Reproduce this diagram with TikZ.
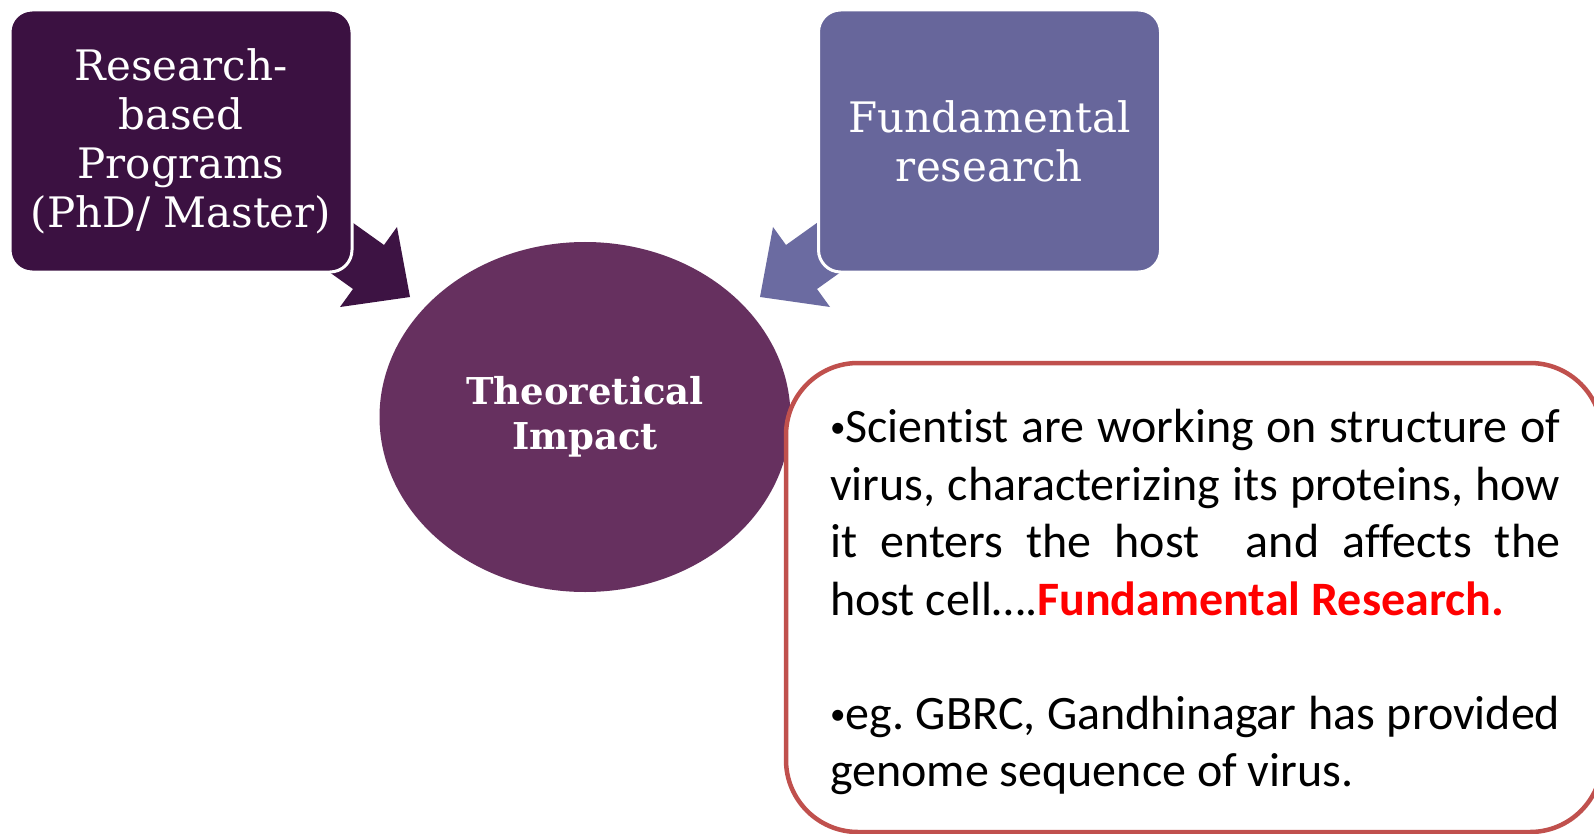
\documentclass[tikz,border=0pt]{standalone}
\usepackage{fontspec}
\usetikzlibrary{shapes.geometric}
\setmainfont{Carlito}[Ligatures=NoCommon]
\newfontfamily\slab{DejaVu Serif}
\definecolor{darkpurp}{HTML}{3B1141}
\definecolor{slatepurp}{HTML}{67669B}
\definecolor{circpurp}{HTML}{66305F}
\definecolor{arrowdark}{HTML}{3D1343}
\definecolor{arrowslate}{HTML}{6B6BA1}
\definecolor{boxred}{HTML}{C0504D}
\newcommand{\smbul}{\raisebox{5pt}{\fontsize{31}{31}\selectfont•}}
\frenchspacing
\begin{document}
\begin{tikzpicture}[x=1pt,y=-1pt,
  pbox/.style={rectangle, rounded corners=22pt, draw=white, line width=3pt,
    minimum width=342pt, minimum height=262pt, text=white, align=center,
    font=\slab\fontsize{42}{49}\selectfont},
  txtline/.style={anchor=base west, inner sep=0pt, font=\fontsize{48}{58}\selectfont}]
\useasboundingbox (0,0) rectangle (1594,834);
\fill[white] (0,0) rectangle (1594,834);
% centre circle
\node[ellipse, fill=circpurp, minimum width=411pt, minimum height=350pt, inner sep=0pt,
  text=white, align=center, font=\slab\bfseries\fontsize{37}{45}\selectfont] (ti) at (585,417)
  {Theoretical\\Impact};
% arrows
\coordinate (la1) at (335,210); \coordinate (la2) at (384,245); \coordinate (la3) at (397,227);
\coordinate (la4) at (410,297); \coordinate (la5) at (340,307); \coordinate (la6) at (353,289);
\coordinate (la7) at (304,254);
\fill[arrowdark] (la1) -- (la2) -- (la3) -- (la4) -- (la5) -- (la6) -- (la7) -- cycle;
\coordinate (ra1) at (835,210); \coordinate (ra2) at (786,245); \coordinate (ra3) at (773,227);
\coordinate (ra4) at (760,297); \coordinate (ra5) at (830,307); \coordinate (ra6) at (817,289);
\coordinate (ra7) at (866,254);
\fill[arrowslate] (ra1) -- (ra2) -- (ra3) -- (ra4) -- (ra5) -- (ra6) -- (ra7) -- cycle;
% boxes
\node[pbox, fill=darkpurp] (rb) at (181,141) {Research-\\based\\Programs\\(PhD/ Master)};
\node[pbox, fill=slatepurp] (fr) at (989.5,141) {Fundamental\\research};
% text box
\node[rectangle, rounded corners=72pt, draw=boxred, line width=4.5pt, fill=white,
  minimum width=816pt, minimum height=469pt, inner sep=0pt] (tb) at (1194,597.5) {};
\node[txtline] (l1) at (830,442) {\makebox[730pt][s]{\smbul Scientist are working on structure of}};
\node[txtline] (l2) at (830,500) {\makebox[730pt][s]{virus, characterizing its proteins, how}};
\node[txtline] (l3) at (830,557) {\makebox[730pt][s]{it enters the host\ \ and affects the}};
\node[txtline] (l4) at (830,615) {host cell….{\color{red}\bfseries Fundamental Research.}};
\node[txtline] (l5) at (830,729) {\makebox[730pt][s]{\smbul eg. GBRC, Gandhinagar has provided}};
\node[txtline] (l6) at (830,786) {genome sequence of virus.};
\end{tikzpicture}
\end{document}
